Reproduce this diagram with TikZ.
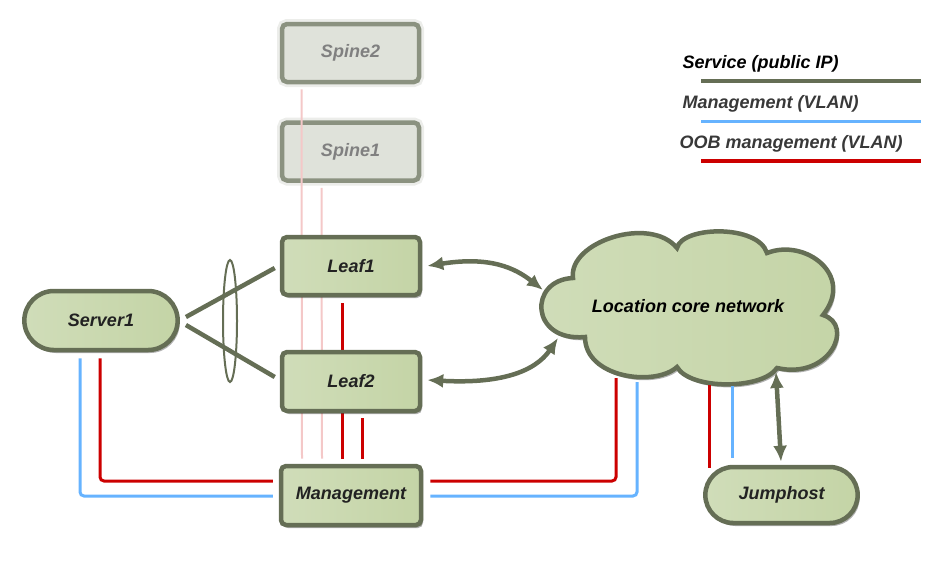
\documentclass[tikz,border=0pt]{standalone}
\usepackage{fontspec}
\setmainfont{Liberation Sans}
\usetikzlibrary{shapes.misc,shapes.geometric,shadows,calc,arrows.meta}
\definecolor{fillg}{HTML}{C4D4A6}
\definecolor{fillgl}{HTML}{D0DDB9}
\definecolor{edgeg}{HTML}{656E55}
\definecolor{oobred}{HTML}{CC0000}
\definecolor{vlanblue}{HTML}{66B3FF}
\definecolor{pinkl}{HTML}{F4C8C8}
\definecolor{txt}{HTML}{222222}
\definecolor{spinefill}{HTML}{DFE2DA}
\tikzset{
  lbl/.style={font=\fontsize{18}{21}\selectfont\bfseries\itshape, text=txt},
  netbox/.style={lbl, draw=edgeg, line width=4.5pt, rounded corners=5pt,
    left color=fillgl, right color=fillg,
    drop shadow={shadow xshift=2pt, shadow yshift=-3pt, opacity=0.3, fill=black}},
  pill/.style={netbox, rounded rectangle, rounded corners=0pt},
  spinebox/.style={lbl, text=black!50, draw=edgeg!75, line width=4.5pt, rounded corners=5pt,
    fill=spinefill, minimum width=137, minimum height=58,
    preaction={draw=edgeg!50, line width=10pt, draw opacity=0.25}},
  svc/.style={draw=edgeg, line width=4.5pt},
  mgmtln/.style={draw=vlanblue, line width=3pt},
  oobln/.style={draw=oobred, line width=3pt},
  faint/.style={draw=pinkl, line width=2pt},
  dbl/.style={svc, {Latex[length=16pt,width=14pt]}-{Latex[length=16pt,width=14pt]}},
}
\begin{document}
\begin{tikzpicture}[x=1pt,y=-1pt]
\useasboundingbox (0,0) rectangle (936,560);

% spines (faded)
\node[spinebox] (spine2) at (350.5,53) {Spine2};
\node[spinebox] (spine1) at (350.5,151.5) {Spine1};

% coordinates of nodes
\coordinate (leaf1c) at (351,266);
\coordinate (leaf2c) at (351,381.5);
\coordinate (mgmtc) at (351,495.5);

% vertical lines behind boxes
\draw[faint] ($(spine2.south)+(-49,5)$) -- ($(mgmtc)+(-49,-37)$) coordinate (p1);
\draw[faint] ($(spine1.south)+(-29,5)$) -- ($(mgmtc)+(-29,-37)$) coordinate (p2);
\draw[oobln] ($(leaf1c)+(-9,37)$) -- ($(mgmtc)+(-9,-37)$) coordinate (p3);
\draw[oobln] ($(leaf2c)+(11,36.5)$) -- ($(mgmtc)+(11,-37)$) coordinate (p4);

\node[netbox, minimum width=138, minimum height=58] (leaf1) at (leaf1c) {Leaf1};
\node[netbox, minimum width=138, minimum height=59] (leaf2) at (leaf2c) {Leaf2};
\node[netbox, minimum width=140, minimum height=59] (mgmt) at (mgmtc) {Management};

\node[pill, minimum width=160, minimum height=59] (server1) at (101,320.5) {Server1};

% cloud
\draw[draw=edgeg, line width=4.5pt, left color=fillgl, right color=fillg,
  drop shadow={shadow xshift=2pt, shadow yshift=-3pt, opacity=0.3, fill=black}]
  (573,278) .. controls (568,242) and (650,215) .. (677,248)
  .. controls (682,226) and (758,224) .. (767,253)
  .. controls (805,238) and (855,275) .. (823,315)
  .. controls (855,325) and (830,380) .. (777,368)
  .. controls (762,390) and (690,390) .. (677,367)
  .. controls (655,387) and (585,378) .. (585,337)
  .. controls (530,342) and (528,280) .. cycle;
\node[lbl, text=black] (cloud) at (688,306) {Location core network};

% server to leaves
\draw[svc] ($(server1.east)+(6,-3.5)$) -- ($(leaf1.west)+(-5,2)$);
\draw[svc] ($(server1.east)+(6,4.5)$) -- ($(leaf2.west)+(-5,-4.5)$);
\node[draw=edgeg, line width=2pt, ellipse, minimum width=14, minimum height=122, inner sep=0pt] (lag) at (230,321) {};

% cloud - leaves
\coordinate (cl1) at (543,290);
\coordinate (cl2) at (558,338);
\draw[dbl] ($(leaf1.east)+(5,0)$) .. controls (490,256) and (515,268) .. (cl1);
\draw[dbl] ($(leaf2.east)+(5,-1.5)$) .. controls (500,384) and (535,372) .. (cl2);

% management lines from server
\draw[oobln, rounded corners=4pt] ($(server1.south)+(-1,6)$) |- ($(mgmt.west)+(-6,-14.5)$);
\draw[mgmtln, rounded corners=4pt] ($(server1.south)+(-21,6)$) |- ($(mgmt.west)+(-6,0.5)$);

% management to cloud
\coordinate (cr1) at (616,378);
\coordinate (cb1) at (637,382);
\draw[oobln, rounded corners=4pt] ($(mgmt.east)+(7,-14.5)$) -| (cr1);
\draw[mgmtln, rounded corners=4pt] ($(mgmt.east)+(7,0.5)$) -| (cb1);

% cloud to jumphost side lines
\coordinate (cr2) at (709,385);
\coordinate (cb2) at (732,386);
\coordinate (jr) at (709,468);
\coordinate (jb) at (732,458);
\draw[oobln] (cr2) -- (jr);
\draw[mgmtln] (cb2) -- (jb);

\node[pill, minimum width=159, minimum height=56] (jump) at (781.5,495) {Jumphost};

% cloud - jumphost
\coordinate (cj) at (776,372);
\draw[dbl] (cj) -- ($(jump.north)+(-0.5,-3)$);

% legend
\node[lbl, text=black, anchor=west] (lg1) at (679,64) {Service (public IP)};
\node[lbl, text=txt!90, anchor=west] (lg2) at (679,104) {Management (VLAN)};
\node[lbl, text=txt!90, anchor=west] (lg3) at (676,144) {OOB management (VLAN)};
\draw[svc, line width=4pt] (701,81) -- (921,81);
\draw[mgmtln] (701,121) -- (921,121);
\draw[oobln, line width=3.5pt] (701,161) -- (921,161);
\end{tikzpicture}
\end{document}
